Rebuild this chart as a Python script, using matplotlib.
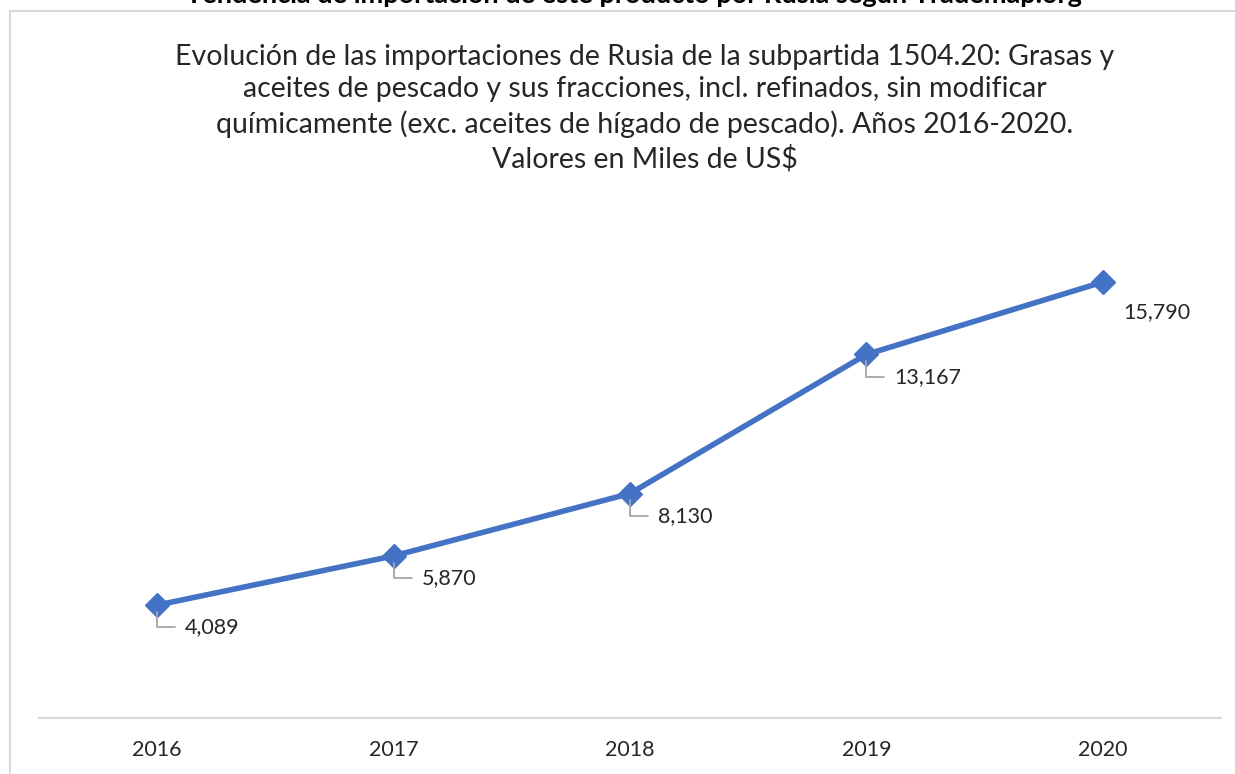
import matplotlib.pyplot as plt
from matplotlib.patches import Rectangle

years = ["2016", "2017", "2018", "2019", "2020"]
values = [4089, 5870, 8130, 13167, 15790]
labels = ["4,089", "5,870", "8,130", "13,167", "15,790"]

W, H = 1235, 774
plt.rcParams['font.family'] = ['Lato', 'DejaVu Sans']

fig = plt.figure(figsize=(W / 100, H / 100), dpi=100)

# chart border (cut off at right / bottom)
fig.patches.append(Rectangle((10 / W, -0.05), (W + 20) / W, 1 - 11 / H + 0.05,
                             transform=fig.transFigure, fill=False,
                             edgecolor='#D9D9D9', linewidth=1.5))

# cropped heading above the chart
fig.text(634 / W, 1 - 3 / H,
         "Tendencia de importación de este producto por Rusia según Trademap.org",
         ha='center', va='baseline', fontsize=19.5, fontweight='bold', color='black')

title = ("Evolución de las importaciones de Rusia de la subpartida 1504.20: Grasas y\n"
         "aceites de pescado y sus fracciones, incl. refinados, sin modificar\n"
         "químicamente (exc. aceites de hígado de pescado). Años 2016-2020.\n"
         "Valores en Miles de US$")
fig.text(645 / W, 1 - 108 / H, title, ha='center', va='center', fontsize=20.5,
         color='#262626', linespacing=1.33)

ax = fig.add_axes([39 / W, 1 - 718 / H, (1221 - 39) / W, (718 - 221) / H])
x = list(range(len(years)))
ax.plot(x, values, color='#4472C4', linewidth=4, marker='D', markersize=12,
        markeredgecolor='#4472C4', solid_joinstyle='round', zorder=3)
ax.set_xlim(-0.5, len(years) - 0.5)
ax.set_ylim(0, 18000)
ax.set_xticks(x)
ax.set_xticklabels(years, fontsize=15.5, color='#262626')
ax.tick_params(axis='x', length=0, pad=16)
ax.set_yticks([])
for s in ['top', 'right', 'left']:
    ax.spines[s].set_visible(False)
ax.spines['bottom'].set_color('#D9D9D9')
ax.spines['bottom'].set_linewidth(1.5)

for i, (v, lab) in enumerate(zip(values, labels)):
    if i < len(values) - 1:
        ax.annotate(lab, xy=(i, v), xytext=(20, -16), textcoords='offset points',
                    fontsize=15.5, color='#262626', ha='left', va='center',
                    arrowprops=dict(arrowstyle='-', color='#A6A6A6', lw=1.3,
                                    connectionstyle='angle,angleA=0,angleB=90,rad=0',
                                    shrinkA=5, shrinkB=5))
    else:
        ax.annotate(lab, xy=(i, v), xytext=(15, -21.5), textcoords='offset points',
                    fontsize=15.5, color='#262626', ha='left', va='center')

fig.savefig("out.png", dpi=100)
